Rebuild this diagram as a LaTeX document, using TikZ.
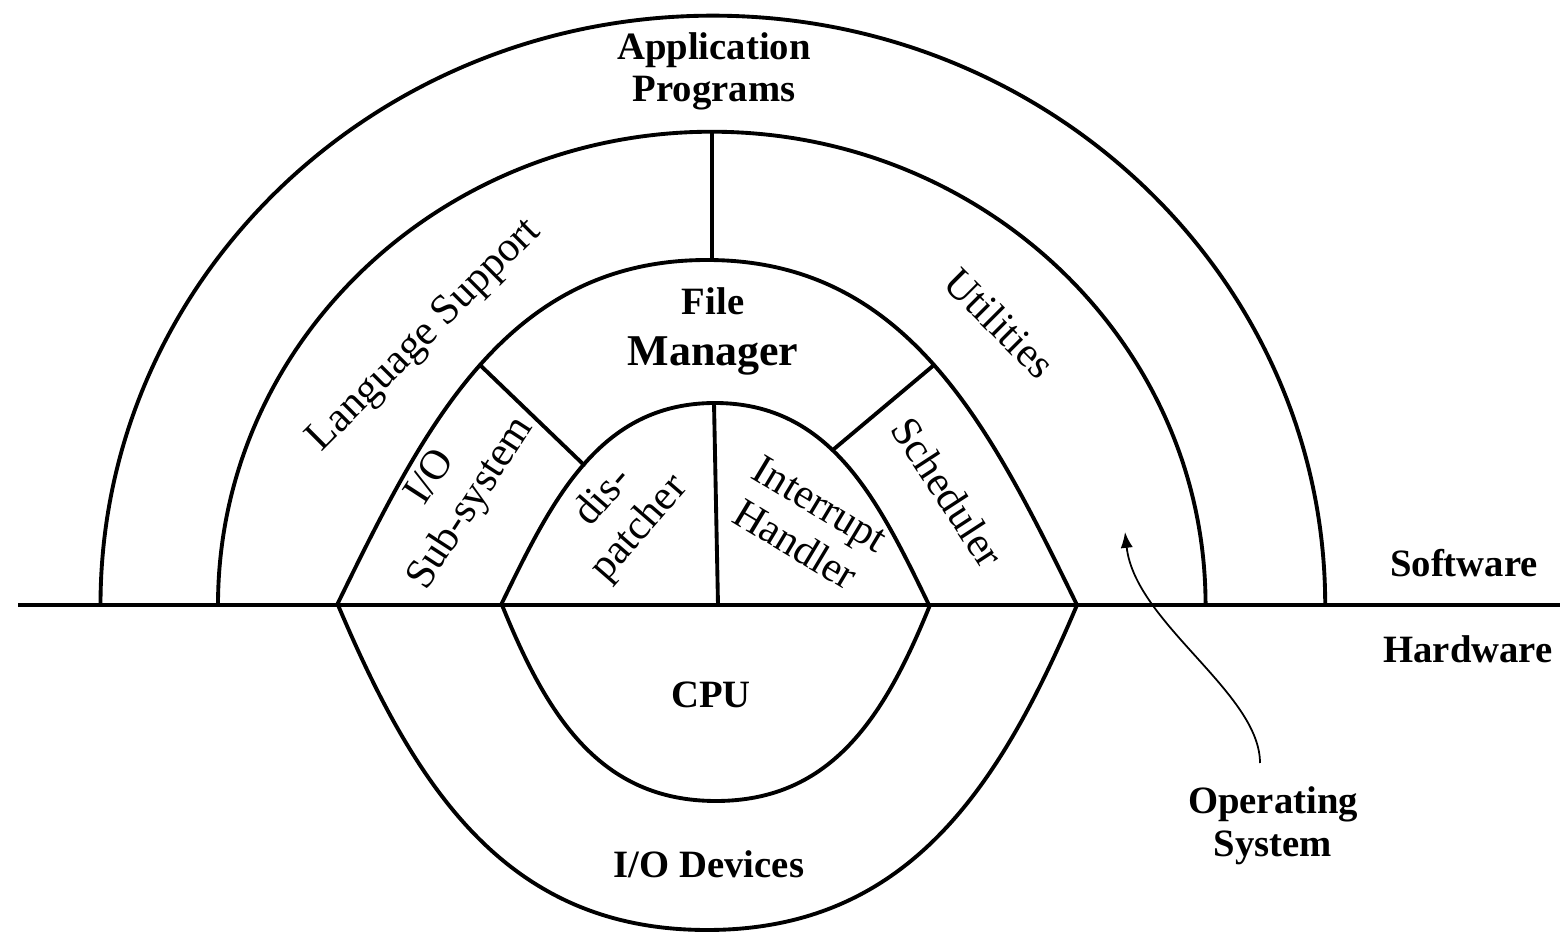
\documentclass[tikz,border=0pt]{standalone}
\usepackage{fontspec}
\setmainfont{Liberation Serif}
\usetikzlibrary{arrows.meta}
\begin{document}
\begin{tikzpicture}[x=0.01cm,y=0.01cm,
  ring/.style={line width=1.1pt, line cap=round, line join=round},
  base/.style={line width=1.4pt},
  rlbl/.style={font=\fontsize{12}{13.5}\selectfont, align=center, inner sep=0pt},
  blbl/.style={font=\bfseries\fontsize{11}{13}\selectfont, inner sep=0pt, anchor=base},
  pointer/.style={line width=0.5pt, -{Latex[length=4.5pt,width=3.5pt]}}]
\useasboundingbox (0,0) rectangle (1560,933);

% baseline between software and hardware
\coordinate (bL) at (18,328);
\coordinate (bR) at (1560,328);
\draw[base] (bL) -- (bR);

% outer rings (application programs / language support & utilities)
\coordinate (o1) at (100.5,328);
\coordinate (o2) at (218,328);
\draw[ring] (o1) arc[start angle=180, end angle=0, x radius=6.12cm, y radius=5.89cm];
\draw[ring] (o2) arc[start angle=180, end angle=0, x radius=4.935cm, y radius=4.73cm];

% operating system upper boundary
\coordinate (m1) at (337,328);
\coordinate (mt) at (707,673);
\coordinate (m2) at (1077,328);
\draw[ring] (m1) .. controls (425,508) and (507,673) .. (mt)
                 .. controls (907,673) and (989,508) .. (m2);

% kernel upper boundary
\coordinate (k1) at (501,328);
\coordinate (kt) at (715,530);
\coordinate (k2) at (929,328);
\draw[ring] (k1) .. controls (552,433) and (599,530) .. (kt)
                 .. controls (831,530) and (878,433) .. (k2);

% lower lenses (hardware)
\coordinate (d1) at (338,328);
\coordinate (db) at (707,3);
\coordinate (d2) at (1077,328);
\draw[ring] (d1) .. controls (416,144) and (507,3) .. (db)
                 .. controls (907,3) and (999,144) .. (d2);
\coordinate (c1) at (502,328);
\coordinate (cb) at (716,132);
\coordinate (c2) at (930,328);
\draw[ring] (c1) .. controls (547,217) and (600,132) .. (cb)
                 .. controls (832,132) and (885,217) .. (c2);

% dividers
\coordinate (v1a) at (712,801);
\coordinate (v1b) at (712,673);
\draw[ring] (v1a) -- (v1b);
\coordinate (v2a) at (714,530);
\coordinate (v2b) at (718,328);
\draw[ring] (v2a) -- (v2b);
\coordinate (l1a) at (480,568);
\coordinate (l1b) at (584,468);
\draw[ring] (l1a) -- (l1b);
\coordinate (r1a) at (934,568);
\coordinate (r1b) at (834,484);
\draw[ring] (r1a) -- (r1b);

% labels
\node[blbl] (app1) at (714,873) {Application};
\node[blbl] (app2) at (714,831) {Programs};
\node[blbl] (file) at (713,618) {File};
\node[blbl, font=\bfseries\fontsize{12.5}{14}\selectfont] (mgr) at (713,567) {Manager};
\node[rlbl, rotate=45] (lang) at (425,597) {Language Support};
\node[rlbl, rotate=-45] (util) at (1000,610) {Utilities};
\node[rlbl, rotate=57] (iosub) at (452,442) {I/O\\Sub-system};
\node[rlbl, rotate=49] (disp) at (622,420) {dis-\\patcher};
\node[rlbl, rotate=-31] (intr) at (808,409) {Interrupt\\Handler};
\node[rlbl, rotate=-57] (sched) at (948,441) {Scheduler};
\node[blbl] (cpu) at (711,225) {CPU};
\node[blbl] (iodev) at (709,55) {I/O Devices};
\node[blbl] (sw) at (1464,356) {Software};
\node[blbl] (hw) at (1468,270) {Hardware};
\node[blbl] (os1) at (1273,120) {Operating};
\node[blbl] (os2) at (1273,76) {System};

% pointer from "Operating System" into the OS ring
\coordinate (arrS) at (1260,170);
\coordinate (arrE) at (1125,401);
\draw[pointer] (arrS) .. controls (1260,240) and (1135,310) .. (arrE);
\end{tikzpicture}
\end{document}
